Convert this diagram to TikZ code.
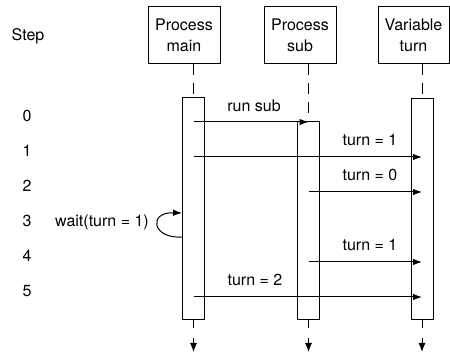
\documentclass[tikz,border=0pt]{standalone}
\usepackage{fontspec}
\setmainfont{TeX Gyre Heros}
\usetikzlibrary{arrows.meta}
\tikzset{
  headnode/.style={rectangle, draw=black, fill=white, line width=1pt,
    minimum width=72pt, minimum height=57pt, inner sep=0pt, align=center,
    font=\fontsize{16}{21}\selectfont},
  barnode/.style={rectangle, draw=black, line width=1pt, minimum width=22pt, inner sep=0pt},
  textnode/.style={anchor=base, inner sep=0pt, font=\fontsize{16}{19}\selectfont},
  lifeedge/.style={draw=black, line width=1pt, dash pattern=on 11pt off 8pt},
  endedge/.style={-{Latex[length=9pt,width=7pt]}, draw=black, line width=1pt,
    dash pattern=on 8pt off 10pt on 30pt},
  msgedge/.style={-{Latex[length=9pt,width=6.5pt]}, draw=black, line width=1pt},
}
\begin{document}
\begin{tikzpicture}[x=1pt, y=-1pt]
  \useasboundingbox (0,0) rectangle (450,352);
  \node[headnode] (mainhead) at (184,35.5) {Process\\main};
  \node[headnode] (subhead) at (300,35.5) {Process\\sub};
  \node[headnode, minimum width=71pt] (varhead) at (413.5,35.5) {Variable\\turn};
  \node[barnode, minimum height=222pt] (mainbar) at (193.5,209) {};
  \node[barnode, minimum height=198pt] (subbar) at (308.5,221) {};
  \node[barnode, minimum height=221pt] (varbar) at (422,209.5) {};
  \node[textnode] (steplbl) at (28,41) {Step};
  \foreach \k in {0,...,5} \node[textnode] (s\k) at (27,122+35*\k) {\k};
  \draw[lifeedge] (mainhead.south -| mainbar) -- (mainbar.north);
  \draw[lifeedge] (subhead.south -| subbar) -- (subbar.north);
  \draw[lifeedge] (varhead.south -| varbar) -- (varbar.north);
  \coordinate (mainend) at (mainbar.center |- 0,352);
  \coordinate (subend) at (subbar.center |- 0,352);
  \coordinate (varend) at (varbar.center |- 0,352);
  \draw[endedge] (mainbar.south) -- (mainend);
  \draw[endedge] (subbar.south) -- (subend);
  \draw[endedge] (varbar.south) -- (varend);
  \draw[msgedge] (s0.base -| mainbar) -- (s0.base -| subbar);
  \draw[msgedge] (s1.base -| mainbar) -- (s1.base -| varbar);
  \draw[msgedge] (s2.base -| subbar) -- (s2.base -| varbar);
  \draw[msgedge] (s4.base -| subbar) -- (s4.base -| varbar);
  \draw[msgedge] (s5.base -| mainbar) -- (s5.base -| varbar);
  \node[textnode] (runlbl) at (254,112) {run sub};
  \node[textnode] (turnlbl1) at (370,146) {turn = 1};
  \node[textnode] (turnlbl0) at (370,181) {turn = 0};
  \node[textnode] (turnlbl4) at (370,251) {turn = 1};
  \node[textnode] (turnlbl5) at (255,286) {turn = 2};
  \node[textnode] (waitlbl) at (102,227) {wait(turn = 1)};
  \coordinate (waitout) at (mainbar.west |- 0,237);
  \coordinate (waitin) at (mainbar.west |- 0,213);
  \draw[msgedge] (waitout) .. controls (152,239) and (148,212) .. (waitin);
\end{tikzpicture}
\end{document}
